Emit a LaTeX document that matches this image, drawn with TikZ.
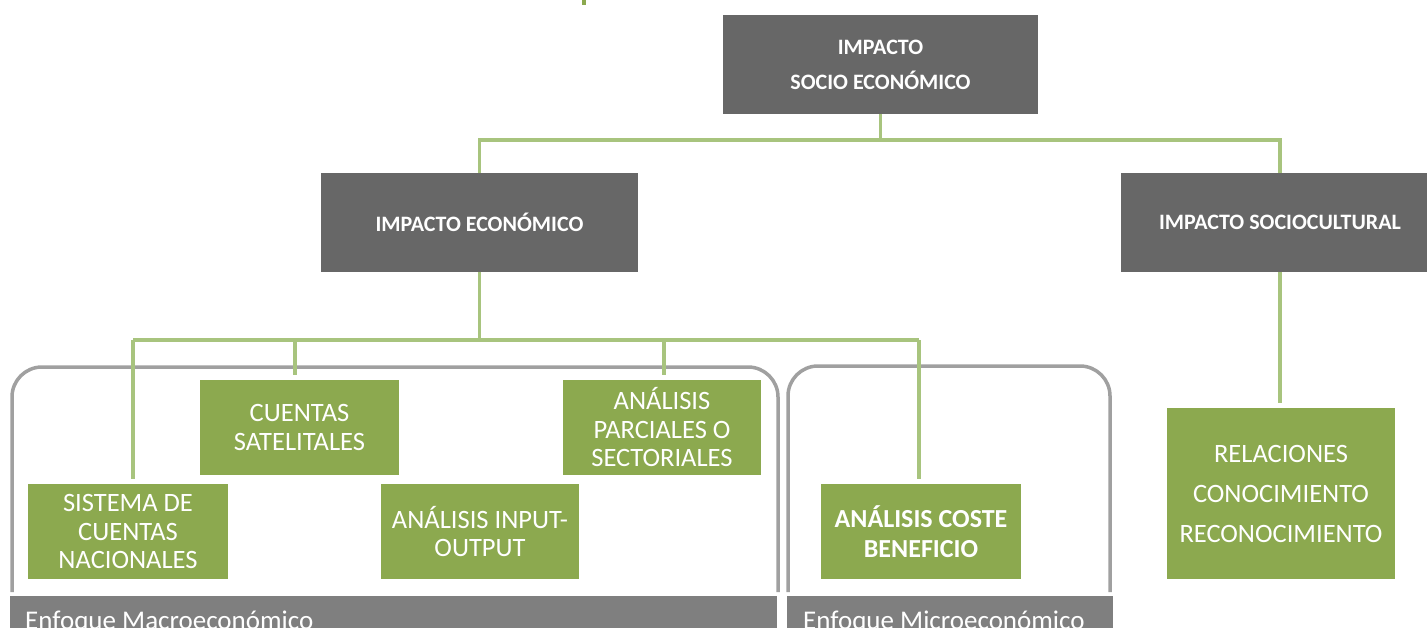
\documentclass[tikz,border=0pt]{standalone}
\usepackage{fontspec}
\setmainfont{Carlito}
\definecolor{boxgray}{HTML}{676767}
\definecolor{boxgreen}{HTML}{8CA94F}
\definecolor{linkgreen}{HTML}{A8C47E}
\definecolor{bracegray}{HTML}{A0A0A0}
\definecolor{bargray}{HTML}{7F7F7F}

\begin{document}
\begin{tikzpicture}[x=1pt,y=-1pt,
  headbox/.style={fill=boxgray, text=white, font=\bfseries\fontsize{22}{35}\selectfont,
    align=center, inner sep=0pt, outer sep=0pt, minimum height=99pt},
  leafbox/.style={fill=boxgreen, text=white, font=\fontsize{26.5}{28.5}\selectfont,
    align=center, inner sep=0pt, outer sep=0pt, minimum height=95pt},
  conn/.style={draw=linkgreen, line width=3.5pt},
  drop/.style={conn, shorten >=5pt},
  bracket/.style={draw=bracegray, line width=3.5pt, rounded corners=30pt},
  barbox/.style={fill=bargray, inner sep=0pt, outer sep=0pt, anchor=north west, minimum height=44pt},
  bartext/.style={text=white, font=\fontsize{27}{30}\selectfont, anchor=base west, inner sep=0pt}]

\useasboundingbox (0,0) rectangle (1427,627);
\clip (0,0) rectangle (1427,627);

% small mark at the top edge
\fill[boxgreen] (582,0) rectangle (586,5);

% grouping brackets
\draw[bracket] (12,592) -- (12,367) -- (778,367) -- (778,592);
\draw[bracket] (788,592) -- (788,366) -- (1110,366) -- (1110,592);

% boxes
\node[headbox, minimum width=315pt] (top) at (880.5,64.5) {IMPACTO\\SOCIO ECONÓMICO};
\node[headbox, minimum width=317pt] (eco) at (479.5,222.5) {IMPACTO ECONÓMICO};
\node[headbox, minimum width=318pt] (soc) at (1280,222.5) {IMPACTO SOCIOCULTURAL};

\node[leafbox, minimum width=200pt] (sis) at (128,531.5) {SISTEMA DE\\CUENTAS\\NACIONALES};
\node[leafbox, minimum width=199pt] (sat) at (299.5,427.5) {CUENTAS\\SATELITALES};
\node[leafbox, minimum width=198pt] (io) at (480,531.5) {ANÁLISIS INPUT-\\OUTPUT};
\node[leafbox, minimum width=198pt] (par) at (662,427.5) {ANÁLISIS\\PARCIALES O\\SECTORIALES};
\node[leafbox, minimum width=200pt, font=\bfseries\fontsize{26}{30}\selectfont] (cb) at (921,531.5) {ANÁLISIS COSTE\\BENEFICIO};
\node[leafbox, minimum width=228pt, minimum height=171pt, font=\fontsize{26.5}{40}\selectfont] (rel) at (1281,493.5) {RELACIONES\\CONOCIMIENTO\\RECONOCIMIENTO};

% connectors
\coordinate (j1) at (880.5,140);
\coordinate (j1l) at (479.5,140);
\coordinate (j1r) at (1280,140);
\draw[conn] (top.south) -- (j1);
\draw[conn] (eco.north) -- (j1l) -- (j1r) -- (soc.north);

\coordinate (j2) at (479.5,340);
\coordinate (j2a) at (133,340);
\coordinate (j2b) at (295,340);
\coordinate (j2c) at (664,340);
\coordinate (j2d) at (919,340);
\draw[conn] (eco.south) -- (j2);
\draw[conn] (j2a) -- (j2d);
\draw[drop] (j2a) -- (j2a |- sis.north);
\draw[drop] (j2b) -- (j2b |- sat.north);
\draw[drop] (j2c) -- (j2c |- par.north);
\draw[drop] (j2d) -- (j2d |- cb.north);
\draw[drop] (soc.south) -- (soc.south |- rel.north);

% approach bars
\node[barbox, minimum width=767pt] (macro) at (10,596) {};
\node[barbox, minimum width=326pt] (micro) at (787,596) {};
\node[bartext] (macrotext) at (25,629) {Enfoque Macroeconómico};
\node[bartext] (microtext) at (803,629) {Enfoque Microeconómico};
\end{tikzpicture}
\end{document}
